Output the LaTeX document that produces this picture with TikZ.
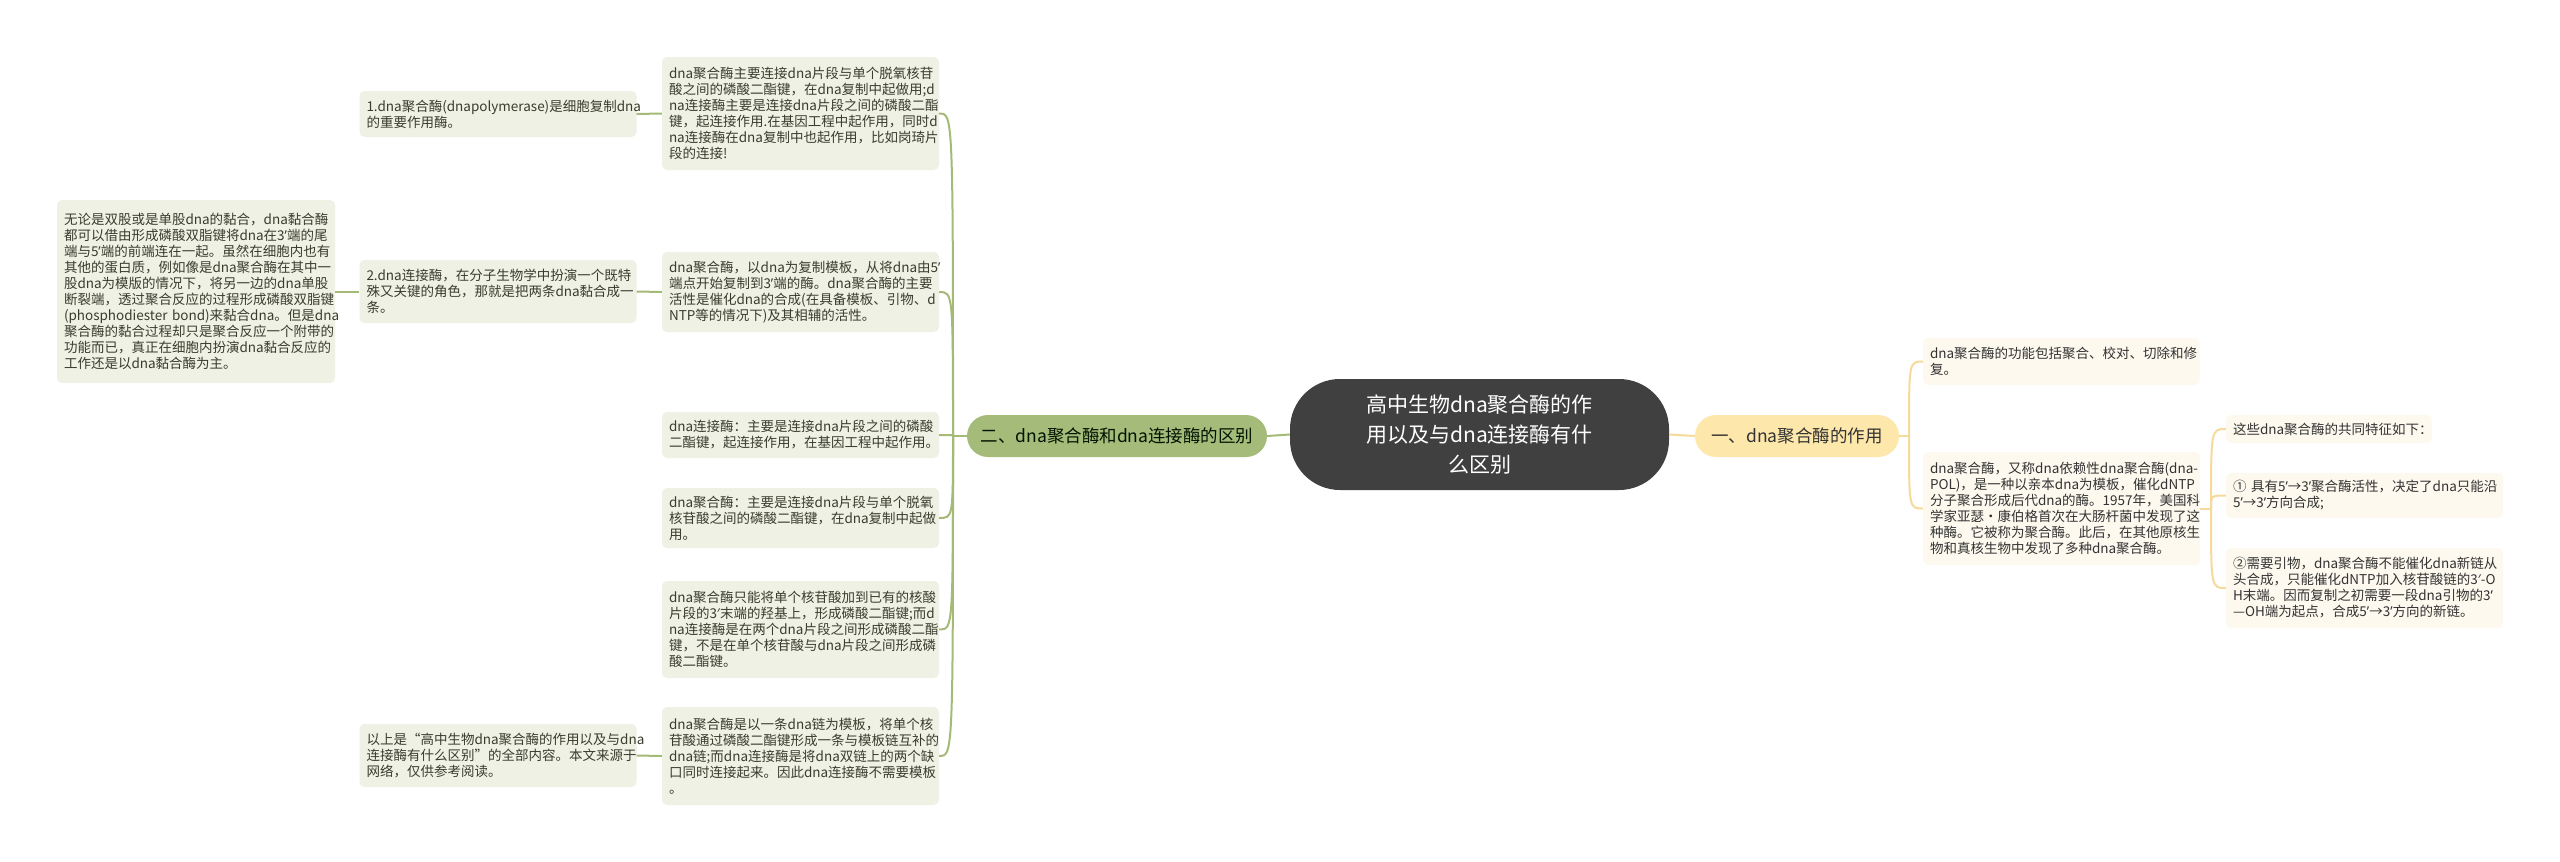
\documentclass[tikz,border=0pt]{standalone}
\usepackage{fontspec}
\setmainfont{Noto Sans CJK SC}
\newfontfamily\latina{Noto Sans}
\newcommand\apos{{\latina ’}}
\newcommand\prim{{\latina ′}}
\usetikzlibrary{positioning}
\definecolor{gristema}{RGB}{64,64,64}
\definecolor{verde}{RGB}{165,187,122}
\definecolor{verdeclaro}{RGB}{238,241,228}
\definecolor{lineaverde}{RGB}{166,186,120}
\definecolor{amarillo}{RGB}{253,231,170}
\definecolor{crema}{RGB}{253,249,238}
\definecolor{lineaamarilla}{RGB}{245,218,155}
\definecolor{texto}{RGB}{58,60,44}
\tikzstyle{hoja} = [fill=verdeclaro, rounded corners=5pt, align=left, text width=263pt, inner xsep=7pt, inner ysep=3pt, text=texto, font=\fontsize{13.5}{16}\selectfont]
\tikzstyle{hojader} = [hoja, fill=crema, text=black!80]
\tikzstyle{rama} = [draw=lineaverde, line width=2pt]
\tikzstyle{ramader} = [draw=lineaamarilla, line width=2pt]

\begin{document}
\begin{tikzpicture}[x=1pt,y=-1pt]
                    \useasboundingbox (0,0) rectangle (2560,862);
                    \fill[white] (0,0) rectangle (2560,862);
                    % centro y ramas principales
                    \node[fill=gristema, rounded corners=50pt, minimum width=379pt, minimum height=111pt, text=white, align=center, font=\fontsize{21}{30}\selectfont] (centro) at (1479.5,434.5) {高中生物dna聚合酶的作\\用以及与dna连接酶有什\\么区别};
                    \node[fill=verde, rounded corners=21pt, minimum width=300pt, minimum height=42pt, text=black!80!green!40!black, font=\fontsize{17.5}{20}\selectfont] (diferencia) at (1117,436) {二、dna聚合酶和dna连接酶的区别};
                    \node[fill=amarillo, rounded corners=21pt, minimum width=204pt, minimum height=42pt, text=black!80, font=\fontsize{17.5}{20}\selectfont] (funcion) at (1797,436) {一、dna聚合酶的作用};
                    \draw[rama] (centro.west) -- (diferencia.east);
                    \draw[ramader] (centro.east) -- (funcion.west);

                    % lado izquierdo
                    \node[hoja, minimum height=113pt] (dl1) at (800.5,113.5) {dna聚合酶主要连接dna片段与单个脱氧核苷\\酸之间的磷酸二酯键，在dna复制中起做用;d\\na连接酶主要是连接dna片段之间的磷酸二酯\\键，起连接作用.在基因工程中起作用，同时d\\na连接酶在dna复制中也起作用，比如岗琦片\\段的连接!};
                    \node[hoja, minimum height=80pt] (dl2) at (800.5,292) {dna聚合酶，以dna为复制模板，从将dna由5\apos\\端点开始复制到3\apos 端的酶。dna聚合酶的主要\\活性是催化dna的合成(在具备模板、引物、d\\NTP等的情况下)及其相辅的活性。};
                    \node[hoja, minimum height=46pt] (dl3) at (800.5,435) {dna连接酶：主要是连接dna片段之间的磷酸\\二酯键，起连接作用，在基因工程中起作用。};
                    \node[hoja, minimum height=60pt] (dl4) at (800.5,518) {dna聚合酶：主要是连接dna片段与单个脱氧\\核苷酸之间的磷酸二酯键，在dna复制中起做\\用。};
                    \node[hoja, minimum height=97pt] (dl5) at (800.5,629.5) {dna聚合酶只能将单个核苷酸加到已有的核酸\\片段的3\prim 末端的羟基上，形成磷酸二酯键;而d\\na连接酶是在两个dna片段之间形成磷酸二酯\\键，不是在单个核苷酸与dna片段之间形成磷\\酸二酯键。};
                    \node[hoja, minimum height=98pt] (dl6) at (800.5,756) {dna聚合酶是以一条dna链为模板，将单个核\\苷酸通过磷酸二酯键形成一条与模板链互补的\\dna链;而dna连接酶是将dna双链上的两个缺\\口同时连接起来。因此dna连接酶不需要模板\\。};

                    \coordinate (troncoizq) at (953,436);
                    \draw[rama] (diferencia.west) -- (troncoizq);
                    \draw[rama] (troncoizq) .. controls (troncoizq |- dl1.east) .. (dl1.east);
                    \draw[rama] (troncoizq) .. controls (troncoizq |- dl2.east) .. (dl2.east);
                    \draw[rama] (troncoizq) .. controls (troncoizq |- dl3.east) .. (dl3.east);
                    \draw[rama] (troncoizq) .. controls (troncoizq |- dl4.east) .. (dl4.east);
                    \draw[rama] (troncoizq) .. controls (troncoizq |- dl5.east) .. (dl5.east);
                    \draw[rama] (troncoizq) .. controls (troncoizq |- dl6.east) .. (dl6.east);

                    \node[hoja, minimum height=46pt] (poli) at (498,114) {1.dna聚合酶(dnapolymerase)是细胞复制dna\\的重要作用酶。};
                    \node[hoja, minimum height=63pt] (liga) at (498,291.5) {2.dna连接酶，在分子生物学中扮演一个既特\\殊又关键的角色，那就是把两条dna黏合成一\\条。};
                    \node[hoja, minimum height=63pt] (fuente) at (498,755.5) {以上是“高中生物dna聚合酶的作用以及与dna\\连接酶有什么区别”的全部内容。本文来源于\\网络，仅供参考阅读。};
                    \node[hoja, text width=264pt, minimum height=183pt] (union) at (196,291.5) {无论是双股或是单股dna的黏合，dna黏合酶\\都可以借由形成磷酸双脂键将dna在3\apos 端的尾\\端与5\apos 端的前端连在一起。虽然在细胞内也有\\其他的蛋白质，例如像是dna聚合酶在其中一\\股dna为模版的情况下，将另一边的dna单股\\断裂端，透过聚合反应的过程形成磷酸双脂键\\(phosphodiester~bond)来黏合dna。但是dna\\聚合酶的黏合过程却只是聚合反应一个附带的\\功能而已，真正在细胞内扮演dna黏合反应的\\工作还是以dna黏合酶为主。};
                    \draw[rama] (dl1.west) -- (poli.east);
                    \draw[rama] (dl2.west) -- (liga.east);
                    \draw[rama] (liga.west) -- (union.east);
                    \draw[rama] (dl6.west) -- (fuente.east);

                    % lado derecho
                    \node[hojader, minimum height=47pt] (fr1) at (2061.5,361.5) {dna聚合酶的功能包括聚合、校对、切除和修\\复。};
                    \node[hojader, minimum height=113pt] (fr2) at (2061.5,508.5) {\mbox{dna聚合酶，又称dna依赖性dna聚合酶(dna-}\\POL)，是一种以亲本dna为模板，催化dNTP\\分子聚合形成后代dna的酶。1957年，美国科\\学家亚瑟·康伯格首次在大肠杆菌中发现了这\\种酶。它被称为聚合酶。此后，在其他原核生\\物和真核生物中发现了多种dna聚合酶。};
                    \coordinate (troncoder) at (1909,436);
                    \draw[ramader] (funcion.east) -- (troncoder);
                    \draw[ramader] (troncoder) .. controls (troncoder |- fr1.west) .. (fr1.west);
                    \draw[ramader] (troncoder) .. controls (troncoder |- fr2.west) .. (fr2.west);

                    \node[hojader, text width=192pt, minimum height=28pt] (rasgos) at (2329,429) {这些dna聚合酶的共同特征如下：};
                    \node[hojader, minimum height=45pt] (rasgo1) at (2364.5,495.5) {\mbox{①~具有5\apos→3\apos 聚合酶活性，决定了dna只能沿}\\5\apos→3\apos 方向合成;};
                    \node[hojader, minimum height=80pt] (rasgo2) at (2364.5,588) {②需要引物，dna聚合酶不能催化dna新链从\\\mbox{头合成，只能催化dNTP加入核苷酸链的3\prim-O}\\H末端。因而复制之初需要一段dna引物的3\apos\\—OH端为起点，合成5\apos→3\apos 方向的新链。};
                    \coordinate (troncoder2) at (2211,508.5);
                    \draw[ramader] (fr2.east) -- (troncoder2);
                    \draw[ramader] (troncoder2) .. controls (troncoder2 |- rasgos.west) .. (rasgos.west);
                    \draw[ramader] (troncoder2) .. controls (troncoder2 |- rasgo1.west) .. (rasgo1.west);
                    \draw[ramader] (troncoder2) .. controls (troncoder2 |- rasgo2.west) .. (rasgo2.west);
                \end{tikzpicture}
\end{document}
